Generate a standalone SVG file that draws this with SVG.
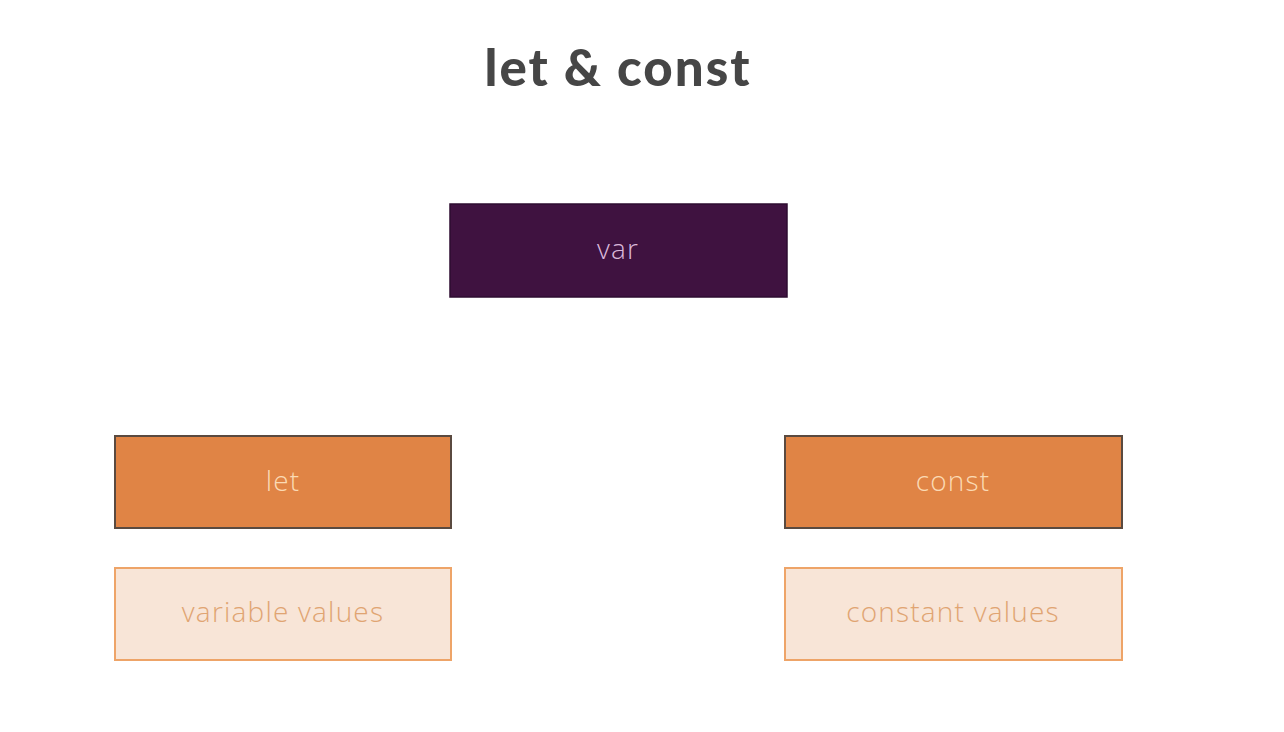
<svg xmlns="http://www.w3.org/2000/svg" width="1284" height="732" viewBox="0 0 1284 732">
<style>
.title{font-family:"Lato","Open Sans","Liberation Sans",sans-serif;font-weight:900;font-size:51px;letter-spacing:2px;fill:#464646;text-anchor:middle}
.lbl{font-family:"Open Sans","Liberation Sans",sans-serif;font-weight:300;font-size:28px;letter-spacing:1.2px;text-anchor:middle;dominant-baseline:central}
.var rect{fill:#3f1240;stroke:#2e0c30;stroke-width:1.5}
.var text{fill:#dab8da}
.kw rect{fill:#e08445;stroke:#5a4a40;stroke-width:2}
.kw text{fill:#fbdab4}
.val rect{fill:#f8e5d7;stroke:#eea468;stroke-width:2}
.val text{fill:#e0a472}
</style>
<rect width="1284" height="732" fill="#ffffff"/>
<text class="title" x="618" y="86">let &amp; const</text>
<g id="connectors"></g>
<g id="var" class="var"><rect x="450" y="204" width="337" height="93"/><text class="lbl" x="618" y="248">var</text></g>
<g id="let" class="kw"><rect x="115" y="436" width="336" height="92"/><text class="lbl" x="283" y="480">let</text></g>
<g id="const" class="kw"><rect x="785" y="436" width="337" height="92"/><text class="lbl" x="953" y="480">const</text></g>
<g id="variable-values" class="val"><rect x="115" y="568" width="336" height="92"/><text class="lbl" x="283" y="611">variable values</text></g>
<g id="constant-values" class="val"><rect x="785" y="568" width="337" height="92"/><text class="lbl" x="953" y="611">constant values</text></g>
</svg>
